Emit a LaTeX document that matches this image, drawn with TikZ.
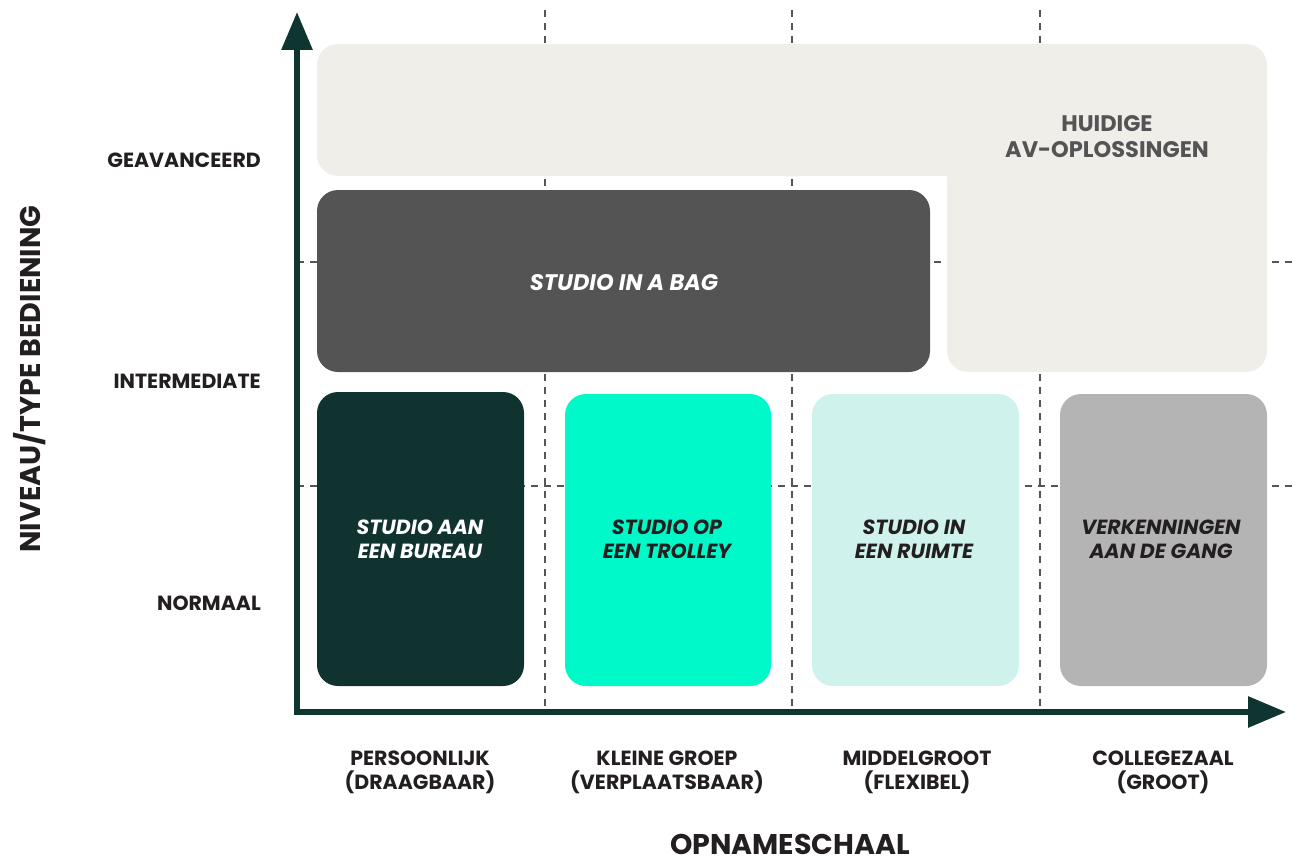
\documentclass[tikz,border=0pt]{standalone}
\usepackage{fontspec}
\setmainfont{Poppins}
\usetikzlibrary{arrows.meta}
\definecolor{axisgreen}{HTML}{0F3530}
\definecolor{lightbg}{HTML}{F0EEE9}
\definecolor{bagdark}{HTML}{545454}
\definecolor{deskgreen}{HTML}{11332F}
\definecolor{aqua}{HTML}{00F9C8}
\definecolor{lightaqua}{HTML}{D0F2EC}
\definecolor{midgray}{HTML}{B4B4B4}
\definecolor{txt}{HTML}{231F20}
\definecolor{gridgray}{HTML}{555555}
\tikzset{
  grid line/.style={draw=gridgray, line width=1.4pt, dash pattern=on 7pt off 6pt},
  boxlabel/.style={font=\fontsize{20.5}{24}\selectfont\bfseries\itshape, align=center, inner sep=0pt},
  axislabel/.style={font=\fontsize{20.5}{24}\selectfont\bfseries, text=txt, align=center, inner sep=0pt},
  axistitle/.style={font=\fontsize{28.5}{32}\selectfont\bfseries, text=txt, inner sep=0pt},
  rbox/.style={rounded corners=21pt}
}
\begin{document}
\begin{tikzpicture}[x=1pt,y=-1pt]
\useasboundingbox (0,0) rectangle (1297,859);
% grid
\coordinate (v1t) at (545,10); \coordinate (v1b) at (545,712);
\coordinate (v2t) at (792,10); \coordinate (v2b) at (792,712);
\coordinate (v3t) at (1040,10); \coordinate (v3b) at (1040,712);
\coordinate (h1l) at (297,262); \coordinate (h1r) at (1297,262);
\coordinate (h2l) at (297,486); \coordinate (h2r) at (1297,486);
\draw[grid line] (v1t) -- (v1b);
\draw[grid line] (v2t) -- (v2b);
\draw[grid line] (v3t) -- (v3b);
\draw[grid line] (h1l) -- (h1r);
\draw[grid line] (h2l) -- (h2r);
% L-shaped region
\fill[lightbg, rbox] (317,44) rectangle (1267,176);
\fill[lightbg, rbox] (947,100) rectangle (1267,372);
\node[font=\fontsize{22.5}{26}\selectfont\bfseries, text=bagdark, align=center, inner sep=0pt] (huidige) at (1107,137) {HUIDIGE\\AV-OPLOSSINGEN};
% studio in a bag
\fill[bagdark, rbox] (317,190) rectangle (930,372);
\node[boxlabel, font=\fontsize{22.5}{26}\selectfont\bfseries\itshape, text=white] (bag) at (624,283) {STUDIO IN A BAG};
% lower boxes
\fill[deskgreen, rbox] (317,392) rectangle (524,686);
\node[boxlabel, text=white] (desk) at (420,539) {STUDIO AAN\\EEN BUREAU};
\fill[aqua, rbox] (565,394) rectangle (771,686);
\node[boxlabel, text=txt] (trolley) at (667,539) {STUDIO OP\\EEN TROLLEY};
\fill[lightaqua, rbox] (812,394) rectangle (1019,686);
\node[boxlabel, text=txt] (room) at (914,539) {STUDIO IN\\EEN RUIMTE};
\fill[midgray, rbox] (1060,394) rectangle (1267,686);
\node[boxlabel, text=txt] (gang) at (1161,539) {VERKENNINGEN\\AAN DE GANG};
% axes
\coordinate (ytip) at (297,12);
\coordinate (origin) at (297,712);
\coordinate (xtip) at (1286,712);
\draw[axisgreen, line width=6pt, {Triangle[width=30pt,length=38pt]}-{Triangle[width=30pt,length=38pt]}] (ytip) -- (origin) -- (xtip);
% y labels
\node[axislabel, anchor=east] (geav) at (261,160) {GEAVANCEERD};
\node[axislabel, anchor=east] (inter) at (261,381) {INTERMEDIATE};
\node[axislabel, anchor=east] (norm) at (261,603) {NORMAAL};
% x labels
\node[axislabel] (pers) at (420,772) {PERSOONLIJK\\(DRAAGBAAR)};
\node[axislabel] (klein) at (667,772) {KLEINE GROEP\\(VERPLAATSBAAR)};
\node[axislabel] (midd) at (917,772) {MIDDELGROOT\\(FLEXIBEL)};
\node[axislabel] (coll) at (1163,772) {COLLEGEZAAL\\(GROOT)};
% titles
\node[axistitle, anchor=base] (xtitle) at (790,854) {OPNAMESCHAAL};
\node[axistitle, rotate=90, anchor=base] (ytitle) at (40,379) {NIVEAU/TYPE BEDIENING};
\end{tikzpicture}
\end{document}
